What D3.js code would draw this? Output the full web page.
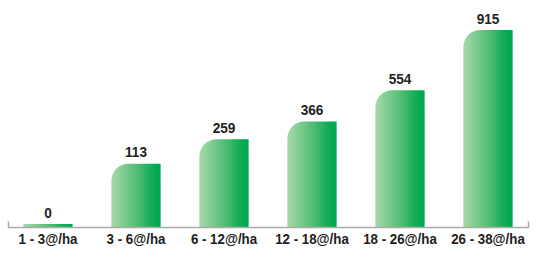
<!DOCTYPE html>
<html>
<head>
<meta charset="utf-8">
<script src="https://cdn.jsdelivr.net/npm/d3@7"></script>
<style>
  html, body { margin: 0; padding: 0; background: #fff; }
  svg { display: block; }
  text { font-family: "Liberation Sans", Arial, Helvetica, sans-serif; font-weight: bold; fill: #222; }
</style>
</head>
<body>
<svg id="chart" width="540" height="257"></svg>
<script>
const categories = ["1 - 3@/ha", "3 - 6@/ha", "6 - 12@/ha", "12 - 18@/ha", "18 - 26@/ha", "26 - 38@/ha"];
const values = [0, 113, 259, 366, 554, 915];

const W = 540, H = 257;
const baseline = 227.5;
const svg = d3.select("#chart");

const defs = svg.append("defs");
const grad = defs.append("linearGradient").attr("id", "barGrad")
  .attr("x1", "0").attr("x2", "1").attr("y1", "0").attr("y2", "0");
grad.append("stop").attr("offset", "0").attr("stop-color", "#a8d9aa");
grad.append("stop").attr("offset", "0.55").attr("stop-color", "#4bbb72");
grad.append("stop").attr("offset", "0.9").attr("stop-color", "#00a94f");
grad.append("stop").attr("offset", "1").attr("stop-color", "#00a94f");

const x = d3.scaleBand().domain(categories).range([4, 532]).paddingInner(0.44).paddingOuter(0.22);
// the infographic scale starts with an offset above the baseline
const y = d3.scaleLinear().domain([0, d3.max(values)]).range([baseline - 45, 30]);
const stub = 3.5;
const r = 17;

function barPath(d, i) {
  const x0 = x(categories[i]), w = x.bandwidth();
  const top = d > 0 ? y(d) : baseline - stub;
  const h = baseline - top;
  const rr = Math.min(r, h, w);
  if (d <= 0) return `M${x0},${baseline}V${top}H${x0 + w}V${baseline}Z`;
  return `M${x0},${baseline}V${top + rr}A${rr},${rr} 0 0 1 ${x0 + rr},${top}H${x0 + w}V${baseline}Z`;
}

svg.append("g").selectAll("path").data(values).join("path")
  .attr("d", (d, i) => barPath(d, i))
  .attr("fill", "url(#barGrad)");

// axis line with end ticks
const axis = svg.append("g").attr("stroke", "#aaa").attr("stroke-width", 1.5).attr("fill", "none");
axis.append("path").attr("d", `M8.5,${baseline - 6}V${baseline}H528.5V${baseline - 6}`);

svg.append("g").selectAll("text").data(values).join("text")
  .attr("transform", (d, i) => `translate(${x(categories[i]) + x.bandwidth() / 2},${(d > 0 ? y(d) : baseline - stub) - 6.5}) scale(0.88,1)`)
  .attr("text-anchor", "middle")
  .attr("font-size", 15.5)
  .text(d => d);

svg.append("g").selectAll("text").data(categories).join("text")
  .attr("transform", d => `translate(${x(d) + x.bandwidth() / 2},244) scale(0.86,1)`)
  .attr("text-anchor", "middle")
  .attr("font-size", 15.5)
  .text(d => d);
</script>
</body>
</html>
